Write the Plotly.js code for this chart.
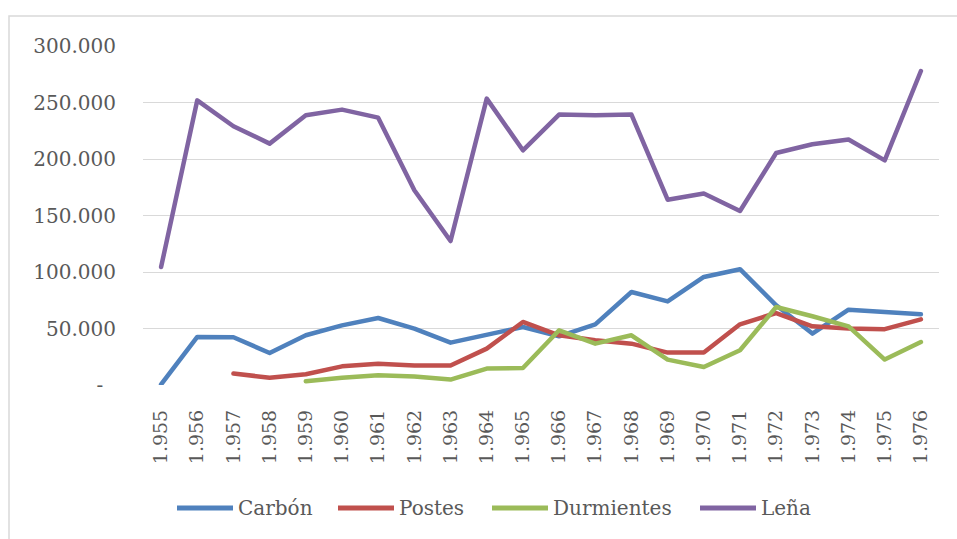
<!DOCTYPE html>
<html>
<head>
<meta charset="utf-8">
<script src="https://cdn.plot.ly/plotly-3.0.1.min.js"></script>
<style>
  html, body { margin: 0; padding: 0; background: #fff; }
  #chart { width: 957px; height: 539px; }
  .scatterlayer path.js-line { stroke-linejoin: round; stroke-linecap: round; }
</style>
</head>
<body>
<div id="chart"></div>
<script>
// ---- data ----
const years = [1955,1956,1957,1958,1959,1960,1961,1962,1963,1964,1965,1966,1967,1968,1969,1970,1971,1972,1973,1974,1975,1976];
const yearLabels = ["1.955","1.956","1.957","1.958","1.959","1.960","1.961","1.962","1.963","1.964","1.965","1.966","1.967","1.968","1.969","1.970","1.971","1.972","1.973","1.974","1.975","1.976"];
const seriesNames = ["Carbón","Postes","Durmientes","Leña"];
const carbon = [500,42500,42300,28300,44000,52800,59300,49900,37500,44600,51300,43100,53700,82300,74000,95600,102500,70500,45500,66700,64300,62600];
const postes = [null,null,10100,6500,9500,16500,18900,17200,17200,32200,55800,44000,39600,36600,28700,28700,53700,63700,51900,49900,49400,58100];
const durmientes = [null,null,null,null,3300,6500,8600,7500,4800,14500,15000,48400,36600,44000,22500,15900,30700,69000,60800,51900,22500,38000];
const lena = [104400,251900,229000,213600,238700,243700,236600,172300,127400,253400,207700,239300,238700,239300,164000,169400,154000,205300,213000,217200,198800,277900];
const yTickVals = [0,50000,100000,150000,200000,250000,300000];
const yTickText = ["-\u00a0\u00a0","50.000","100.000","150.000","200.000","250.000","300.000"];

// ---- styling ----
const colors = ["#4F81BD","#C0504D","#9BBB59","#8064A2"];
const seriesValues = [carbon, postes, durmientes, lena];
const textColor = "#595959";
const fontFam = "DejaVu Serif, serif";

const W = 957, H = 539;
const M = {l:143, r:18, t:46, b:154};
const plotW = W - M.l - M.r, plotH = H - M.t - M.b;
const px2x = px => (px - M.l) / plotW;
const py2y = py => (H - M.b - py) / plotH;

const traces = seriesValues.map((vals, i) => ({
  type: "scatter",
  mode: "lines",
  name: seriesNames[i],
  x: yearLabels,
  y: vals,
  connectgaps: false,
  line: {color: colors[i], width: 4.5},
  hoverinfo: "x+y+name",
  showlegend: false
}));

// custom legend (Excel style, long swatches)
const legendStarts = [177, 338, 492, 700];
const legendLineLen = 56;
const legendY = 508;
const shapes = [{
  type: "rect", xref: "paper", yref: "paper", layer: "below",
  x0: px2x(9), x1: px2x(970), y0: py2y(560), y1: py2y(16),
  line: {color: "#D9D9D9", width: 1.5}, fillcolor: "rgba(0,0,0,0)"
}];
const annotations = [];
seriesNames.forEach((n, i) => {
  const s = legendStarts[i];
  shapes.push({
    type: "line", xref: "paper", yref: "paper",
    x0: px2x(s), x1: px2x(s + legendLineLen), y0: py2y(legendY), y1: py2y(legendY),
    line: {color: colors[i], width: 5}
  });
  annotations.push({
    xref: "paper", yref: "paper", x: px2x(s + legendLineLen + 3), y: py2y(legendY),
    xanchor: "left", yanchor: "middle", showarrow: false, text: n,
    font: {family: fontFam, size: 20, color: textColor}
  });
});

const layout = {
  width: W, height: H,
  margin: M,
  paper_bgcolor: "#ffffff",
  plot_bgcolor: "#ffffff",
  showlegend: false,
  font: {family: fontFam, color: textColor, size: 20},
  xaxis: {
    type: "category",
    range: [-0.5, years.length - 0.5],
    tickmode: "array", tickvals: yearLabels, ticktext: yearLabels,
    tickangle: -90,
    ticks: "", showgrid: false, zeroline: false, showline: false,
    ticklabelstandoff: 20,
    tickfont: {family: fontFam, size: 19, color: textColor},
    fixedrange: true
  },
  yaxis: {
    range: [0, 300000],
    tickmode: "array", tickvals: yTickVals, ticktext: yTickText,
    ticks: "", showgrid: true, gridcolor: "#D9D9D9", gridwidth: 1.3,
    zeroline: false, showline: false,
    ticklabelstandoff: 26,
    tickfont: {family: fontFam, size: 20, color: textColor},
    fixedrange: true
  },
  shapes: shapes,
  annotations: annotations
};

Plotly.newPlot("chart", traces, layout, {displayModeBar: false, staticPlot: false});
</script>
</body>
</html>
